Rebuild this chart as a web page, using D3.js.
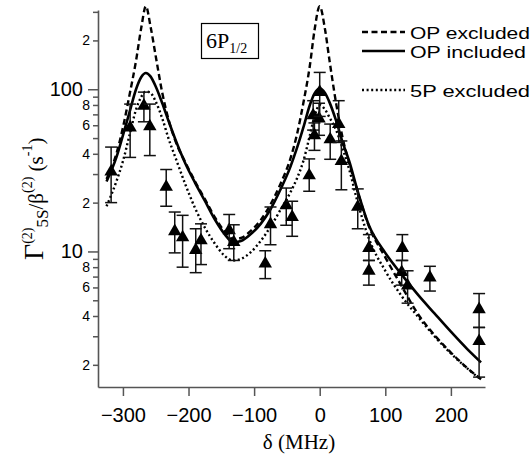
<!DOCTYPE html>
<html>
<head>
<meta charset="utf-8">
<script src="https://cdn.jsdelivr.net/npm/d3@7"></script>
<style>
  body { margin: 0; background: #fff; }
  svg { display: block; }
</style>
</head>
<body>
<svg id="graf"></svg>
<script>
// detuning grid for the three model curves (MHz)
let curveDelta = [-325, -310, -300, -290, -280, -272, -265, -258, -250, -240, -230, -220, -205, -190,
  -175, -160, -145, -132, -120, -105, -90, -75, -60, -45, -35, -25, -15, -8, 0, 8, 15, 25, 35, 45,
  58, 75, 100, 125, 150, 175, 200, 225, 246]

let opExcluded = [28, 40, 58, 92, 150, 240, 325, 245, 160, 95, 64, 48, 35.5, 27,
  21, 16.3, 13.3, 11.9, 12.1, 13.4, 15.6, 19.5, 26, 37, 52, 82, 140, 230, 325, 235, 150, 82, 50, 35,
  23.2, 14.3, 9.2, 6.1, 4.1, 3.05, 2.38, 1.91, 1.63]

let opIncluded = [27, 38, 52, 72, 100, 119, 126, 120, 104, 82, 63, 49, 35, 26.5,
  20.5, 15.8, 12.8, 11.4, 11.6, 12.8, 14.8, 18.2, 24, 33, 43, 58, 80, 94, 101, 95, 83, 64, 47, 36,
  23.5, 14.5, 9.8, 7.2, 5.4, 4.15, 3.2, 2.5, 2.07]

let fivePExcluded = [19, 27, 36, 52, 75, 90, 97, 95, 84, 66, 49, 38, 26, 18.5,
  14, 11.2, 9.4, 8.8, 9.0, 9.9, 11.6, 14.2, 18, 23, 28, 36, 52, 68, 80, 75, 67, 56, 43, 32,
  20, 12, 7.6, 5.3, 3.95, 3.0, 2.35, 1.9, 1.62]

// measured points
let pointDelta = [-318, -289, -268, -259, -234, -221, -209, -189, -181, -138, -131, -83, -75, -51, -42,
  -16, -10, -1, 0, -8, 16, 29, 33, 58, 75, 75, 126, 125, 134, 168, 243, 243]
let pointRate = [31, 58, 79, 59, 25, 13.3, 12.2, 10.2, 11.7, 13.5, 11.4, 8.4, 14.7, 19.2, 16.3,
  29.4, 69, 66, 96, 52, 49, 61, 36, 18.8, 10.5, 7.6, 10.5, 7.45, 6.15, 6.9, 4.4, 2.8]
let errLow = [20, 38, 63, 39, 19, 9.8, 8.0, 7.4, 8.3, 10.4, 8.8, 6.8, 11, 14.5, 12.4,
  23.5, 56, 52, 68, 42, 37, 47, 24, 13.8, 8.8, 6.2, 8.8, 6.2, 4.8, 5.7, 3.4, 1.68]
let errHigh = [44, 81, 96, 81, 32, 17.5, 16.7, 13.8, 14.8, 16.9, 14.6, 10.1, 18.8, 24.6, 20.4,
  37.2, 85, 82, 127, 62, 61, 85, 48, 24.3, 12.7, 8.8, 12.7, 8.8, 7.6, 8.1, 5.5, 3.4]

let xTicks = [-300, -200, -100, 0, 100, 200]
let yMajorTicks = [10, 100]
let yMinorTicks = [2, 3, 4, 5, 6, 7, 8, 9, 20, 30, 40, 50, 60, 70, 80, 90, 200, 300]
let yMinorLabels = [2, 4, 6, 8, 20, 40, 60, 80, 200]

let legendNames = ['OP excluded', 'OP included', '5P excluded']

function graficar() {
  let w = 532
  let h = 457
  let svg = d3.select('#graf')
    .attr('width', w)
    .attr('height', h)

  let x = d3.scaleLinear().domain([-338, 252]).range([98, 485])
  let y = d3.scaleLog().domain([1.46, 308]).range([387, 10])

  let sans = 'Liberation Sans, Arial, Helvetica, sans-serif'
  let serif = 'Liberation Serif, Times New Roman, serif'

  // axes
  let gx = svg.append('g')
    .attr('transform', 'translate(0,387)')
    .call(d3.axisBottom(x).tickValues(xTicks).tickSize(9).tickSizeOuter(0).tickPadding(12)
      .tickFormat(d3.format('d')))
  gx.selectAll('text').style('font-family', sans).style('font-size', '20px').style('fill', '#000')

  let gyMinor = svg.append('g')
    .attr('transform', 'translate(98,0)')
    .call(d3.axisLeft(y).tickValues(yMinorTicks).tickSize(5).tickSizeOuter(0).tickPadding(3)
      .tickFormat(function(d) {
        if (yMinorLabels.indexOf(d) < 0) return ''
        return String(d).charAt(0)
      }))
  gyMinor.selectAll('text').style('font-family', sans).style('font-size', '14px').style('fill', '#000')

  let gyMajor = svg.append('g')
    .attr('transform', 'translate(98,0)')
    .call(d3.axisLeft(y).tickValues(yMajorTicks).tickSize(10).tickSizeOuter(0).tickPadding(5)
      .tickFormat(d3.format('d')))
  gyMajor.selectAll('text').style('font-family', sans).style('font-size', '20px').style('fill', '#000')
  gyMajor.select('.domain').remove()

  svg.selectAll('.domain').style('stroke', '#555').style('stroke-width', 1.6)
  svg.selectAll('.tick line').style('stroke', '#555').style('stroke-width', 1.5)

  // model curves
  let styles = [
    { vals: opExcluded, dash: '6,3.5', width: 2.4 },
    { vals: opIncluded, dash: null, width: 2.6 },
    { vals: fivePExcluded, dash: '2,2.6', width: 2.4 }
  ]
  let line = d3.line()
    .x(function(d) { return x(d[0]) })
    .y(function(d) { return y(d[1]) })
    .curve(d3.curveMonotoneX)

  styles.forEach(function(s) {
    svg.append('path')
      .datum(curveDelta.map(function(d, i) { return [d, s.vals[i]] }))
      .attr('d', line)
      .style('fill', 'none')
      .style('stroke', '#000')
      .style('stroke-width', s.width)
      .style('stroke-dasharray', s.dash)
  })

  // error bars + markers
  let pts = pointDelta.map(function(d, i) {
    return { x: d, y: pointRate[i], lo: errLow[i], hi: errHigh[i] }
  })
  let eb = svg.append('g').selectAll('g')
    .data(pts)
    .enter()
    .append('g')
  eb.append('line')
    .attr('x1', function(d) { return x(d.x) })
    .attr('x2', function(d) { return x(d.x) })
    .attr('y1', function(d) { return y(d.lo) })
    .attr('y2', function(d) { return y(d.hi) })
  eb.append('line')
    .attr('x1', function(d) { return x(d.x) - 6 })
    .attr('x2', function(d) { return x(d.x) + 6 })
    .attr('y1', function(d) { return y(d.lo) })
    .attr('y2', function(d) { return y(d.lo) })
  eb.append('line')
    .attr('x1', function(d) { return x(d.x) - 6 })
    .attr('x2', function(d) { return x(d.x) + 6 })
    .attr('y1', function(d) { return y(d.hi) })
    .attr('y2', function(d) { return y(d.hi) })
  eb.selectAll('line').style('stroke', '#111').style('stroke-width', 1.5)
  eb.append('path')
    .attr('d', d3.symbol().type(d3.symbolTriangle).size(78))
    .attr('transform', function(d) { return 'translate(' + x(d.x) + ',' + y(d.y) + ')' })
    .style('fill', '#000')

  // legend
  let legY = [32, 51, 90]
  styles.forEach(function(s, i) {
    svg.append('line')
      .attr('x1', 362).attr('x2', 405)
      .attr('y1', legY[i]).attr('y2', legY[i])
      .style('stroke', '#000')
      .style('stroke-width', s.width)
      .style('stroke-dasharray', s.dash)
    svg.append('text')
      .attr('x', 410)
      .attr('y', legY[i] + 6.5)
      .attr('textLength', i == 1 ? 116 : 120)
      .attr('lengthAdjust', 'spacingAndGlyphs')
      .style('font-family', sans)
      .style('font-size', '17px')
      .text(legendNames[i])
  })

  // boxed state label
  svg.append('rect')
    .attr('x', 201.5).attr('y', 23.5).attr('width', 57).attr('height', 35)
    .style('fill', '#fff').style('stroke', '#000').style('stroke-width', 1.2)
  let lab = svg.append('text')
    .attr('x', 206).attr('y', 48)
    .style('font-family', serif).style('font-size', '22px')
  lab.append('tspan').text('6P')
  lab.append('tspan').attr('dy', 5).style('font-size', '14px').text('1/2')

  // axis titles
  svg.append('text')
    .attr('x', 299).attr('y', 449)
    .attr('text-anchor', 'middle')
    .style('font-family', serif).style('font-size', '21px')
    .text('δ (MHz)')

  let yt = svg.append('text')
    .attr('transform', 'translate(43,260) rotate(-90)')
    .style('font-family', serif).style('font-size', '21px')
  yt.append('tspan').style('font-size', '28px').text('Γ')
  yt.append('tspan').attr('dy', -11).style('font-size', '14px').text('(2)')
  yt.append('tspan').attr('dy', 16).style('font-size', '17px').text('5S')
  yt.append('tspan').attr('dy', -5).text('/β')
  yt.append('tspan').attr('dy', -11).style('font-size', '14px').text('(2)')
  yt.append('tspan').attr('dy', 11).text('\u00a0(s')
  yt.append('tspan').attr('dy', -11).style('font-size', '14px').text('-1')
  yt.append('tspan').attr('dy', 11).text(')')
}

graficar()
</script>
</body>
</html>
